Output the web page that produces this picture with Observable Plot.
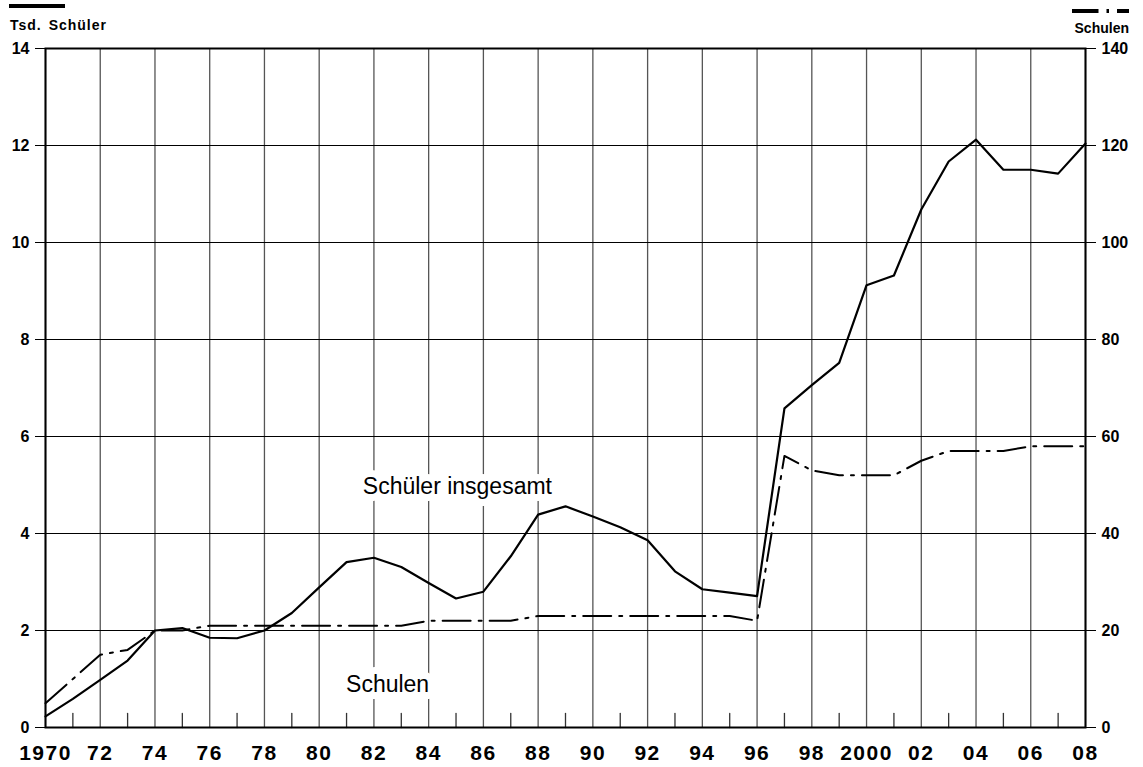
<!DOCTYPE html>
<html>
<head>
<meta charset="utf-8">
<script src="https://cdn.jsdelivr.net/npm/d3@7"></script>
<script src="https://cdn.jsdelivr.net/npm/@observablehq/plot@0.6"></script>
<style>
  html, body { margin: 0; padding: 0; background: #fff; }
  #chart { width: 1143px; height: 767px; }
</style>
</head>
<body>
<div id="chart"></div>
<script>
const years = [1970,1971,1972,1973,1974,1975,1976,1977,1978,1979,1980,1981,1982,1983,1984,1985,1986,1987,1988,1989,1990,1991,1992,1993,1994,1995,1996,1997,1998,1999,2000,2001,2002,2003,2004,2005,2006,2007,2008];
// Schüler insgesamt (Tsd.)
const schueler = [0.23,0.59,0.98,1.38,2.0,2.05,1.85,1.84,2.0,2.36,2.89,3.41,3.5,3.31,2.98,2.66,2.8,3.53,4.39,4.56,4.35,4.13,3.86,3.22,2.85,2.78,2.71,6.58,7.06,7.52,9.12,9.32,10.68,11.67,12.12,11.5,11.5,11.42,12.04];
// Schulen (Anzahl)
const schulen = [5,10,15,16,20,20,21,21,21,21,21,21,21,21,22,22,22,22,23,23,23,23,23,23,23,23,22,56,53,52,52,52,55,57,57,57,58,58,58];

const evenYears = [1970,1972,1974,1976,1978,1980,1982,1984,1986,1988,1990,1992,1994,1996,1998,2000,2002,2004,2006,2008];
const oddYears = [1971,1973,1975,1977,1979,1981,1983,1985,1987,1989,1991,1993,1995,1997,1999,2001,2003,2005,2007];
const xTickLabels = ["1970","72","74","76","78","80","82","84","86","88","90","92","94","96","98","2000","02","04","06","08"];
const yTicks = [0,2,4,6,8,10,12,14];
const rightTickFactor = 10; // Schulen = 10 × left scale

const lineLabels = [
  {text: "Schüler insgesamt", year: 1985.05, value: 4.97},
  {text: "Schulen", year: 1982.5, value: 0.89}
];

const data = years.map((y, i) => ({year: y, schueler: schueler[i], schulen: schulen[i]}));
const labelOf = new Map(evenYears.map((y, i) => [y, xTickLabels[i]]));

const font = "'Liberation Sans', Arial, Helvetica, sans-serif";

const chart = Plot.plot({
  width: 1143,
  height: 767,
  marginLeft: 45,
  marginRight: 58,
  marginTop: 48,
  marginBottom: 40,
  style: {fontFamily: font, background: "white", color: "black"},
  x: {type: "linear", domain: [1970, 2008]},
  y: {domain: [0, 14]},
  marks: [
    Plot.ruleX(evenYears, {stroke: "#555", strokeWidth: 1.3}),
    Plot.ruleY(yTicks, {stroke: "#000", strokeWidth: 1}),
    Plot.vector(oddYears, {
      x: d => d, y: 0, length: 14, rotate: 0, anchor: "start",
      stroke: "#333", strokeWidth: 1.3,
      shape: {draw(ctx, l) { ctx.moveTo(0, 0); ctx.lineTo(0, -l); }}
    }),
    Plot.text(lineLabels, {
      x: "year", y: "value", text: "text",
      fontSize: 23, fill: "black", stroke: "white", strokeWidth: 14,
      textAnchor: "middle", lineAnchor: "middle"
    }),
    Plot.line(data, {x: "year", y: d => d.schulen / rightTickFactor, stroke: "black", strokeWidth: 2, strokeDasharray: "28,8,3,8", strokeLinejoin: "round"}),
    Plot.line(data, {x: "year", y: "schueler", stroke: "black", strokeWidth: 2.2, strokeLinejoin: "round"}),
    Plot.frame({stroke: "black", strokeWidth: 2}),
    Plot.axisY(yTicks, {anchor: "left", tickSize: 10, tickPadding: 6, fontSize: 16, fontWeight: "bold", label: null, strokeWidth: 1}),
    Plot.axisY(yTicks, {anchor: "right", tickSize: 10, tickPadding: 6, fontSize: 16, fontWeight: "bold", label: null, strokeWidth: 1, tickFormat: d => d * rightTickFactor}),
    Plot.axisX(evenYears, {anchor: "bottom", tickSize: 0, tickPadding: 18, fontSize: 21, fontWeight: "bold", label: null, tickFormat: d => labelOf.get(d)})
  ]
});

document.getElementById("chart").appendChild(chart);

// Letter spacing for the bottom year labels
d3.select(chart).selectAll('[aria-label="x-axis tick label"] text').style("letter-spacing", "1.5px");

// Header: left axis title with solid legend sample, right axis title with dash-dot sample
const svg = d3.select(chart);
const hdr = svg.append("g").attr("aria-label", "axis titles");
hdr.append("line").attr("x1", 9).attr("x2", 65).attr("y1", 6).attr("y2", 6)
  .attr("stroke", "black").attr("stroke-width", 4);
hdr.append("text").attr("x", 10).attr("y", 30).attr("text-anchor", "start")
  .attr("font-family", font).attr("font-size", 14).attr("font-weight", "bold")
  .style("letter-spacing", "1px").style("word-spacing", "2px")
  .text("Tsd. Schüler");
hdr.append("line").attr("x1", 1072).attr("x2", 1129).attr("y1", 11).attr("y2", 11)
  .attr("stroke", "black").attr("stroke-width", 4).attr("stroke-dasharray", "26.5,8,2.5,8");
hdr.append("text").attr("x", 1129).attr("y", 33).attr("text-anchor", "end")
  .attr("font-family", font).attr("font-size", 14).attr("font-weight", "bold")
  .text("Schulen");
</script>
</body>
</html>
